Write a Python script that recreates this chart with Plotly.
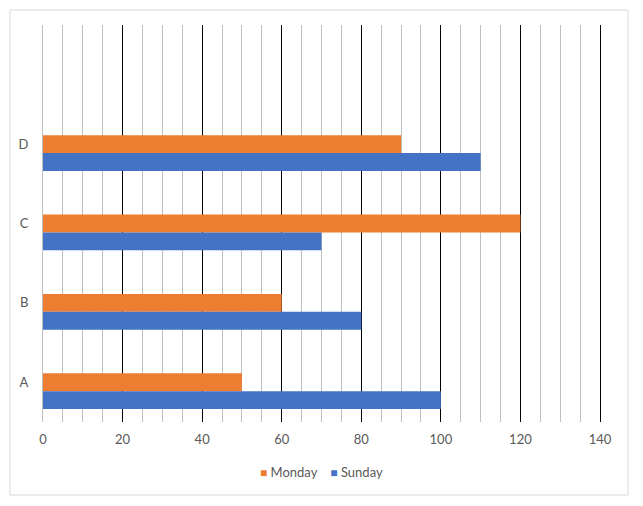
import plotly.graph_objects as go

categories = ["A", "B", "C", "D"]
sunday = [100, 80, 70, 110]
monday = [50, 60, 120, 90]
x_ticks = [0, 20, 40, 60, 80, 100, 120, 140]
series_names = ["Monday", "Sunday"]
series_colors = ["#ED7D31", "#4472C4"]

ypos = list(range(len(categories)))
font = dict(family="Lato, Open Sans, sans-serif", size=13, color="#595959")

fig = go.Figure()
fig.add_trace(go.Bar(
    name=series_names[0], y=ypos, x=monday, orientation="h",
    marker=dict(color=series_colors[0], line=dict(width=0)),
    width=[0.225] * len(ypos), offset=[-0.1125] * len(ypos),
))
fig.add_trace(go.Bar(
    name=series_names[1], y=ypos, x=sunday, orientation="h",
    marker=dict(color=series_colors[1], line=dict(width=0)),
    width=[0.225] * len(ypos), offset=[-0.3375] * len(ypos),
))

legend_text = "&nbsp;&nbsp;&nbsp;&nbsp;".join(
    f"<span style='color:{c};font-size:12px'>■</span> {n}"
    for n, c in zip(series_names, series_colors)
)

fig.update_layout(
    width=643, height=506,
    margin=dict(l=43, r=43, t=25, b=84),
    paper_bgcolor="white", plot_bgcolor="white",
    barmode="overlay",
    font=font,
    showlegend=False,
    xaxis=dict(
        range=[0, 140], tickvals=x_ticks, ticktext=[str(v) for v in x_ticks],
        showgrid=True, gridcolor="#000000", gridwidth=1,
        minor=dict(dtick=5, showgrid=True, gridcolor="#BFBFBF", gridwidth=1),
        zeroline=False, showline=False, ticks="", ticklabelstandoff=8,
        tickfont=font,
    ),
    yaxis=dict(
        range=[-0.5, 4.5], tickvals=ypos, ticktext=categories,
        showgrid=False, zeroline=False, showline=True, linecolor="#BFBFBF",
        linewidth=1, mirror=False, ticks="",
        ticklabelstandoff=11, tickfont=font,
    ),
    yaxis2=dict(
        overlaying="y", side="right", range=[-0.5, 4.5],
        showgrid=False, zeroline=False, showline=True, linecolor="#000000",
        linewidth=1, showticklabels=False, ticks="",
    ),
    annotations=[dict(text=legend_text, xref="paper", yref="paper",
                      x=0.5, y=-0.126, xanchor="center", yanchor="middle",
                      showarrow=False, font=font)],
    shapes=[dict(type="rect", xref="paper", yref="paper",
                 x0=-33/557, x1=585/557, y0=-73/397, y1=412/397,
                 line=dict(color="#D9D9D9", width=1), layer="below")],
)
fig.add_trace(go.Scatter(x=[None], y=[None], yaxis="y2", showlegend=False, hoverinfo="skip"))

fig.write_html("out.html")
